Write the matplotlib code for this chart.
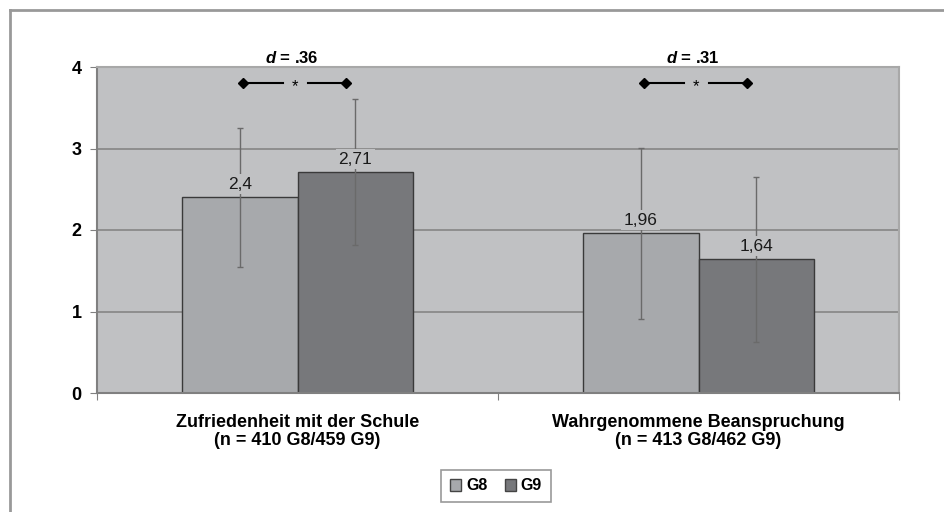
import matplotlib.pyplot as plt
import matplotlib.patches as mpatches
from matplotlib.lines import Line2D
import numpy as np

plt.rcParams['font.family'] = ['Liberation Sans', 'DejaVu Sans']
plt.rcParams['mathtext.fontset'] = 'custom'
plt.rcParams['mathtext.it'] = 'Liberation Sans:italic:bold'

categories = ["Zufriedenheit mit der Schule\n(n = 410 G8/459 G9)",
              "Wahrgenommene Beanspruchung\n(n = 413 G8/462 G9)"]
series = ["G8", "G9"]
means_g8 = [2.4, 1.96]
means_g9 = [2.71, 1.64]
sd_g8 = [0.85, 1.05]
sd_g9 = [0.90, 1.01]
labels_g8 = ["2,4", "1,96"]
labels_g9 = ["2,71", "1,64"]
effect_sizes = [".36", ".31"]

bg = "#C0C1C3"
col_g8 = "#A7A9AC"
col_g9 = "#77787B"

fig = plt.figure(figsize=(9.45, 5.12), dpi=100)
ax = fig.add_axes([97 / 945, 1 - 393 / 512, (899 - 97) / 945, (393 - 67) / 512])
ax.set_facecolor(bg)

x = np.arange(len(categories))
w = 0.287

ax.bar(x - w / 2, means_g8, w, color=col_g8, edgecolor="#3a3a3a", linewidth=1, zorder=2, label=series[0])
ax.bar(x + w / 2, means_g9, w, color=col_g9, edgecolor="#3a3a3a", linewidth=1, zorder=2, label=series[1])
ax.errorbar(x - w / 2, means_g8, yerr=sd_g8, fmt="none", ecolor="#6a6a6a", elinewidth=1, capsize=2.5, zorder=3)
ax.errorbar(x + w / 2, means_g9, yerr=sd_g9, fmt="none", ecolor="#6a6a6a", elinewidth=1, capsize=2.5, zorder=3)

for xs, vals, labs in [(x - w / 2, means_g8, labels_g8), (x + w / 2, means_g9, labels_g9)]:
    for xi, v, lab in zip(xs, vals, labs):
        ax.annotate(lab, (xi, v), xytext=(0, 4), textcoords="offset points",
                    ha="center", va="bottom", fontsize=12.5, color="#1a1a1a", zorder=4,
                    bbox=dict(boxstyle="square,pad=0.15", fc=bg, ec="none"))

# significance brackets
yb = 3.80
for xi, d in zip(x, effect_sizes):
    ax.plot([xi - 0.135, xi - 0.037], [yb, yb], color="black", lw=1.5, zorder=5)
    ax.plot([xi + 0.025, xi + 0.122], [yb, yb], color="black", lw=1.5, zorder=5)
    ax.plot([xi - 0.135, xi + 0.122], [yb, yb], ls="none", marker="D", ms=5.5, color="black", zorder=6)
    ax.text(xi - 0.006, yb - 0.04, "*", ha="center", va="center", fontsize=12, zorder=6)
    ax.text(xi - 0.015, 4.11, r"$d$ = " + d, ha="center", va="center", fontsize=12,
            fontweight="bold", clip_on=False)

ax.set_ylim(0, 4)
ax.set_xlim(-0.5, 1.5)
ax.set_yticks([0, 1, 2, 3, 4])
ax.set_yticklabels(["0", "1", "2", "3", "4"], fontsize=13, fontweight="bold")
ax.yaxis.grid(True, color="#8a8a8a", lw=1.3, zorder=1)
ax.set_axisbelow(True)

ax.set_xticks([-0.5, 0.5, 1.5])
ax.set_xticklabels([])
ax.set_xticks(x, minor=True)
ax.set_xticklabels(categories, minor=True, fontsize=13, fontweight="bold", linespacing=1.12)
ax.tick_params(axis="x", which="minor", length=0, pad=15)
ax.tick_params(axis="x", which="major", length=5, color="#808080")
ax.tick_params(axis="y", length=5, color="#808080", pad=6)

for s in ["left", "bottom"]:
    ax.spines[s].set_color("#808080")
    ax.spines[s].set_linewidth(1.5)
for s in ["top", "right"]:
    ax.spines[s].set_color("#a8a8a8")
    ax.spines[s].set_linewidth(1.5)

handles = [mpatches.Patch(facecolor=col_g8, edgecolor="#444444", label=series[0]),
           mpatches.Patch(facecolor=col_g9, edgecolor="#444444", label=series[1])]
leg = fig.legend(handles=handles, loc="center", bbox_to_anchor=(496 / 945, 1 - 486 / 512), ncol=2,
                 prop={"weight": "bold", "size": 11.5}, frameon=True, fancybox=False,
                 edgecolor="#808080", handlelength=0.7, handleheight=0.7, handletextpad=0.3,
                 columnspacing=1.1, borderpad=0.55)
leg.get_frame().set_linewidth(1.2)

# outer frame
fig.add_artist(Line2D([10 / 945, 1], [1 - 10 / 512, 1 - 10 / 512], color="#999999", lw=2))
fig.add_artist(Line2D([10 / 945, 10 / 945], [0, 1 - 10 / 512], color="#999999", lw=2))

fig.savefig("out.png", dpi=100)
